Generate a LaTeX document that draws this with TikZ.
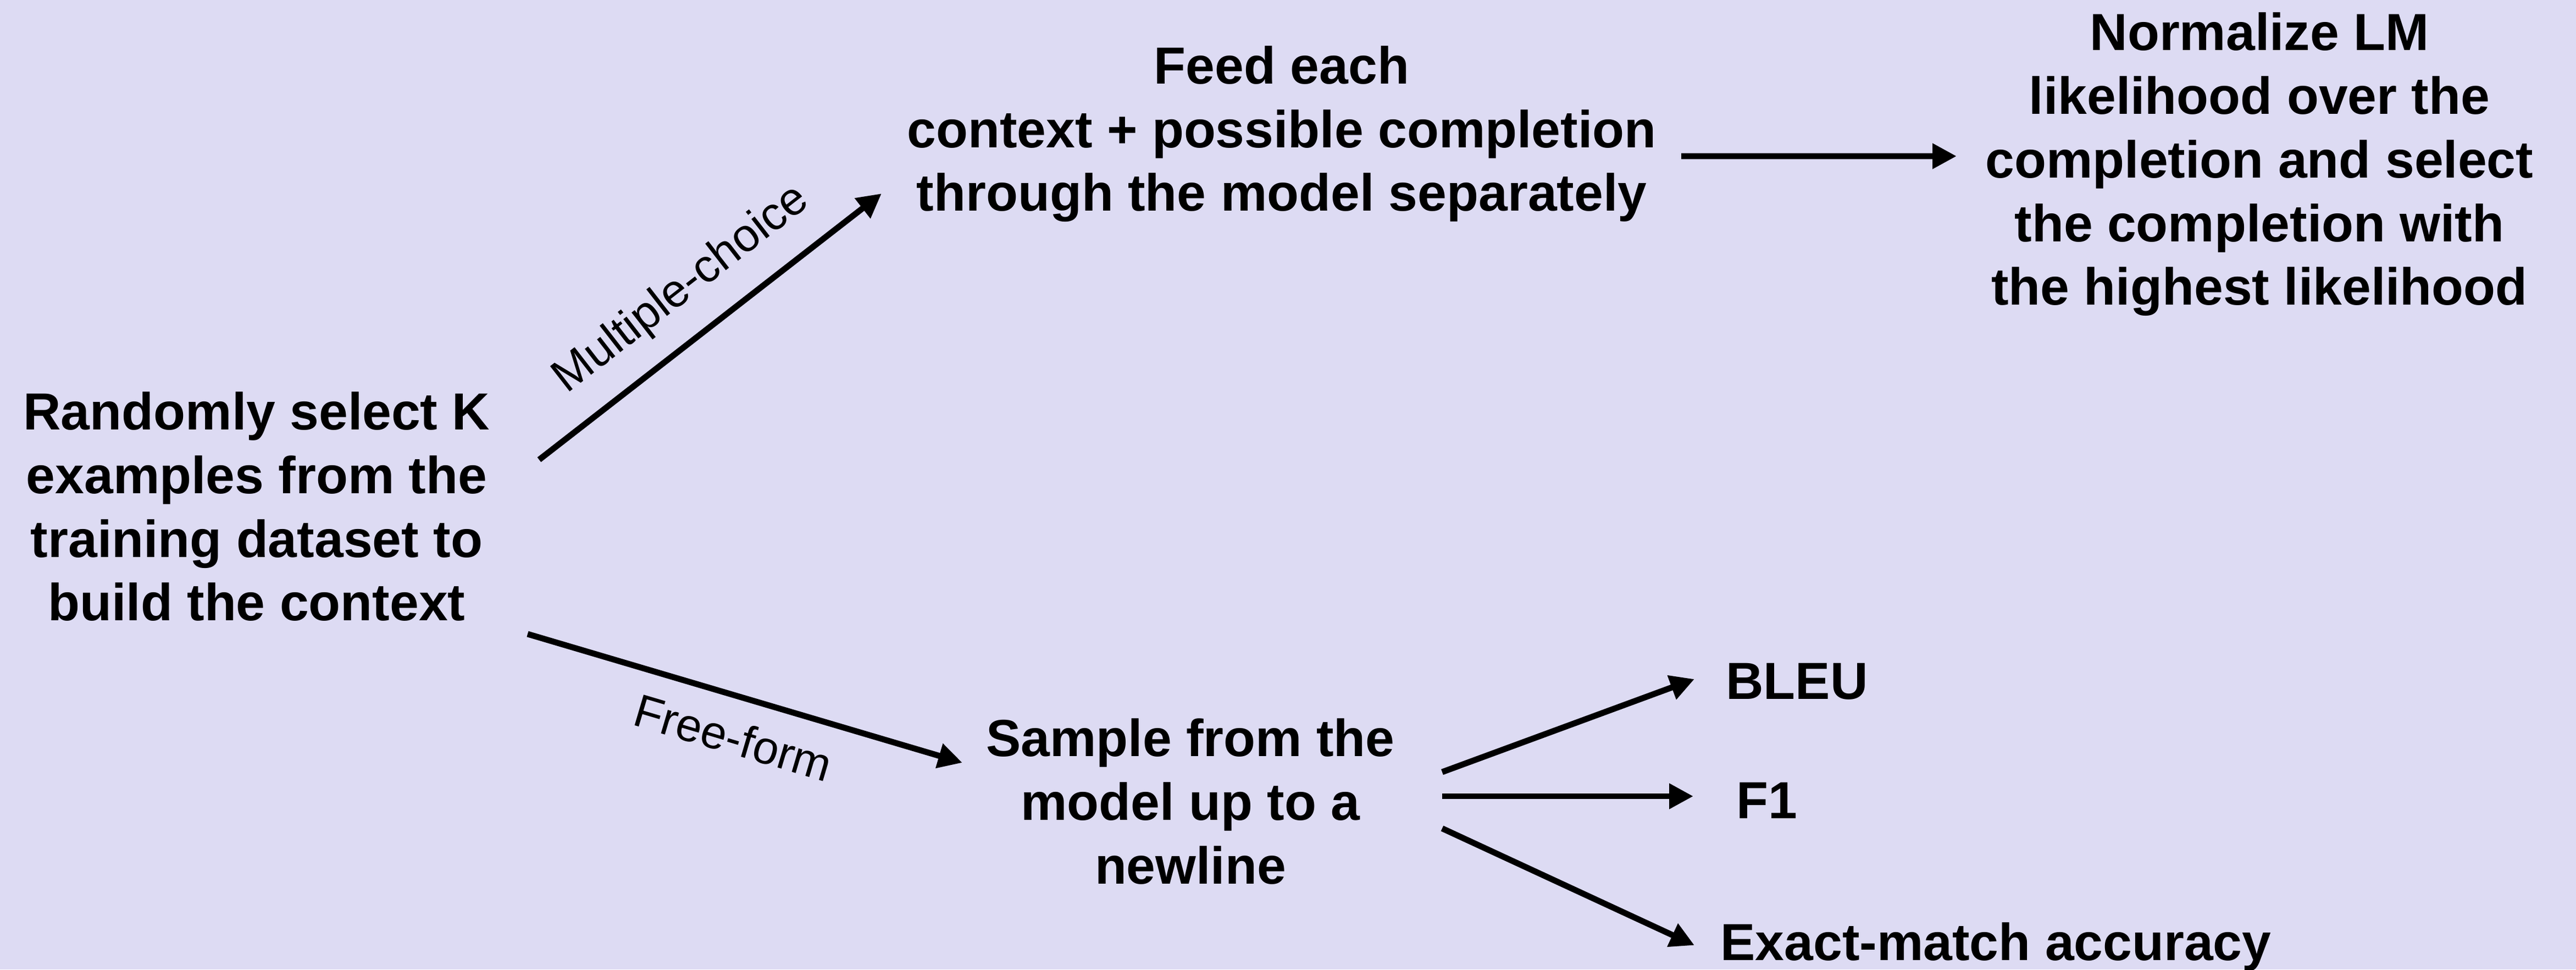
\documentclass[tikz,border=0pt]{standalone}
\usepackage{fontspec}
\setmainfont{Liberation Sans}
\usetikzlibrary{arrows.meta}
\definecolor{lavender}{RGB}{221,219,243}

\begin{document}
\begin{tikzpicture}[> = {Triangle[length=4.4mm, width=4.4mm]}, % arrow head style
                line width = 3.1pt % line style
            ]

            \tikzstyle{every node}=[inner sep = 0pt, align = center,
            font = \fontsize{27}{33}\selectfont\bfseries]
            \tikzstyle{branch label}=[font = \fontsize{24}{29}\selectfont, sloped]

            % background
            \useasboundingbox (0,0) rectangle (46.87,17.63);
            \fill[lavender] (0,0) rectangle (46.87,17.63);

            % base = baseline of the last line
            \node (ctx) [anchor=base] at (4.67,6.34) {Randomly select K\\
            examples from the\\ training dataset to\\ build the context};
            \node (feed) [anchor=base] at (23.32,13.79) {Feed each\\ context +
            possible completion\\ through the model separately};
            \node (norm) [anchor=base] at (41.11,12.08) {Normalize LM\\
            likelihood over the\\ completion and select\\ the completion
            with\\ the highest likelihood};
            \node (sample) [anchor=base] at (21.66,1.56) {Sample from the\\
            model up to a\\ newline};
            \node (bleu) [anchor=base west] at (31.35,4.91) {BLEU};
            \node (f1) [anchor=base west] at (31.54,2.745) {F1};
            \node (exact) [anchor=base west] at (31.25,0.17) {Exact-match
            accuracy};

            \path[->] ([shift={(5.14,2.93)}]ctx.base) edge node[branch label,
            above=4mm] {Multiple-choice} ([shift={(-7.28,0.32)}]feed.base);
            \path[->] ([shift={(4.93,-0.24)}]ctx.base) edge node[branch label,
            below=3.8mm] {Free-form} ([shift={(-4.15,2.20)}]sample.base);
            \path[->] ([shift={(7.27,1.00)}]feed.base) edge
            ([shift={(-5.51,2.71)}]norm.base);
            \path[->] ([shift={(4.58,2.03)}]sample.base) edge
            ([shift={(-0.52,0.37)}]bleu.base west);
            \path[->] ([shift={(4.58,1.59)}]sample.base) edge
            ([shift={(-0.73,0.405)}]f1.base west);
            \path[->] ([shift={(4.58,1.005)}]sample.base) edge
            ([shift={(-0.42,0.27)}]exact.base west);
\end{tikzpicture}
\end{document}
